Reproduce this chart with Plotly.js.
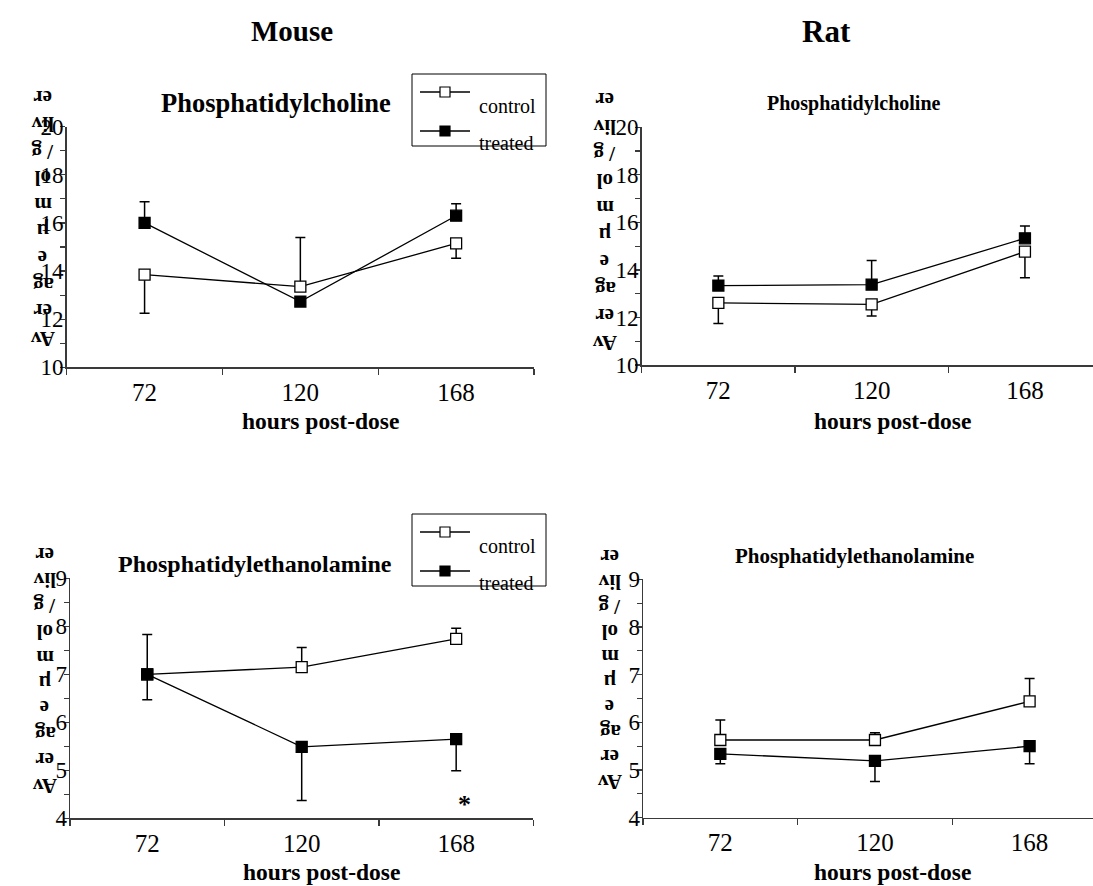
<!DOCTYPE html>
<html>
<head>
<meta charset="utf-8">
<script src="https://cdn.plot.ly/plotly-3.0.1.min.js"></script>
<style>html,body{margin:0;padding:0;background:#fff;}#chart{width:1093px;height:886px;}</style>
</head>
<body>
<div id="chart"></div>
<script>
// ---- data ----
const hours = ['72', '120', '168'];
const seriesNames = ['control', 'treated'];
const speciesNames = ['Mouse', 'Rat'];
const lipidNames = ['Phosphatidylcholine', 'Phosphatidylethanolamine'];
const xTitle = 'hours post-dose';
const yLabelPieces = ['er', 'liv', '/ g', 'ol', 'm', 'µ', 'e', 'ag', 'er', 'Av']; // "Average µmol / g liver", as printed
const significanceMark = '*';
const significantHour = '168';

// Mouse – Phosphatidylcholine
const mousePC_control = [13.85, 13.35, 15.15];
const mousePC_control_errPlus = [0, 2.05, 0];
const mousePC_control_errMinus = [1.6, 0, 0.62];
const mousePC_treated = [16.0, 12.73, 16.3];
const mousePC_treated_errPlus = [0.88, 0, 0.5];
const mousePC_treated_errMinus = [0, 0, 0];

// Rat – Phosphatidylcholine
const ratPC_control = [12.61, 12.55, 14.77];
const ratPC_control_errPlus = [0, 0, 0];
const ratPC_control_errMinus = [0.86, 0.49, 1.1];
const ratPC_treated = [13.34, 13.38, 15.33];
const ratPC_treated_errPlus = [0.4, 1.02, 0.52];
const ratPC_treated_errMinus = [0, 0, 0];

// Mouse – Phosphatidylethanolamine
const mousePE_control = [7.0, 7.15, 7.74];
const mousePE_control_errPlus = [0.83, 0.41, 0.22];
const mousePE_control_errMinus = [0, 0, 0];
const mousePE_treated = [7.0, 5.49, 5.65];
const mousePE_treated_errPlus = [0, 0, 0];
const mousePE_treated_errMinus = [0.53, 1.12, 0.66];

// Rat – Phosphatidylethanolamine
const ratPE_control = [5.63, 5.63, 6.44];
const ratPE_control_errPlus = [0.42, 0.15, 0.48];
const ratPE_control_errMinus = [0, 0, 0];
const ratPE_treated = [5.34, 5.19, 5.5];
const ratPE_treated_errPlus = [0, 0, 0];
const ratPE_treated_errMinus = [0.21, 0.43, 0.37];

// ---- layout helpers ----
const W = 1093, H = 886;
const px = v => v / W;
const py = v => 1 - v / H;
const SERIF = '"Liberation Serif", "Times New Roman", serif';
const AXC = '#3a3a3a';

function mkTrace(name, y, ep, em, xa, ya) {
  const filled = name === seriesNames[1];
  return {
    type: 'scatter', mode: 'lines+markers', name: name,
    x: hours, y: y, xaxis: xa, yaxis: ya, showlegend: false,
    line: {color: '#000', width: 1.3},
    marker: {symbol: 'square', size: 11, color: filled ? '#000' : '#fff', line: {color: '#000', width: 1.3}},
    error_y: {type: 'data', symmetric: false, array: ep, arrayminus: em, color: '#000', thickness: 1.5, width: 5},
    hoverinfo: 'x+y'
  };
}

const traces = [
  mkTrace(seriesNames[0], mousePC_control, mousePC_control_errPlus, mousePC_control_errMinus, 'x', 'y'),
  mkTrace(seriesNames[1], mousePC_treated, mousePC_treated_errPlus, mousePC_treated_errMinus, 'x', 'y'),
  mkTrace(seriesNames[0], ratPC_control, ratPC_control_errPlus, ratPC_control_errMinus, 'x2', 'y2'),
  mkTrace(seriesNames[1], ratPC_treated, ratPC_treated_errPlus, ratPC_treated_errMinus, 'x2', 'y2'),
  mkTrace(seriesNames[0], mousePE_control, mousePE_control_errPlus, mousePE_control_errMinus, 'x3', 'y3'),
  mkTrace(seriesNames[1], mousePE_treated, mousePE_treated_errPlus, mousePE_treated_errMinus, 'x3', 'y3'),
  mkTrace(seriesNames[0], ratPE_control, ratPE_control_errPlus, ratPE_control_errMinus, 'x4', 'y4'),
  mkTrace(seriesNames[1], ratPE_treated, ratPE_treated_errPlus, ratPE_treated_errMinus, 'x4', 'y4')
];

function xAxis(domain, rangeMax, anchor) {
  return {
    type: 'category', domain: domain, range: [-0.5, rangeMax], anchor: anchor,
    showline: true, linecolor: AXC, linewidth: 1.5,
    ticks: 'outside', tickson: 'boundaries', ticklen: 6, tickcolor: AXC, tickwidth: 1.2,
    showgrid: false, zeroline: false, ticklabelstandoff: 2,
    tickfont: {family: SERIF, size: 25, color: '#000'},
    fixedrange: true
  };
}
function yAxis(domain, range, dtick, minor, anchor) {
  return {
    domain: domain, range: range, dtick: dtick, anchor: anchor,
    showline: true, linecolor: AXC, linewidth: 1.5,
    ticks: 'outside', ticklen: 5, tickcolor: AXC, tickwidth: 1.2,
    minor: {dtick: minor, ticks: 'outside', ticklen: 5, tickcolor: AXC, tickwidth: 1.2},
    showgrid: false, zeroline: false, ticklabelstandoff: -8,
    tickfont: {family: SERIF, size: 23, color: '#000'},
    fixedrange: true
  };
}

const annotations = [];
const shapes = [];
function addText(text, x, y, size, opts, fontOpts) {
  annotations.push(Object.assign({
    text: text, xref: 'paper', yref: 'paper', x: px(x), y: py(y),
    xanchor: 'center', yanchor: 'middle', showarrow: false,
    font: Object.assign({family: SERIF, size: size, color: '#000', weight: 'bold'}, fontOpts || {})
  }, opts || {}));
}
// headers and panel titles
addText(speciesNames[0], 292, 31, 29);
addText(speciesNames[1], 826, 31, 31);
addText(lipidNames[0], 276, 103, 26.5);
addText(lipidNames[0], 854, 103, 20);
addText(lipidNames[1], 255, 564, 24);
addText(lipidNames[1], 854, 556, 21);
// x-axis titles
addText(xTitle, 320, 421, 23.5);
addText(xTitle, 892, 421, 23.5);
addText(xTitle, 321, 872, 23.5);
addText(xTitle, 892, 872, 23.5);

// y-axis title, printed as upside-down fragments
function addYLabel(cx, top, step) {
  yLabelPieces.forEach((t, i) => addText(t, cx, top + i * step, 21, {textangle: 180}));
}
addYLabel(43, 98, 26.7);
addYLabel(605, 100, 27.0);
addYLabel(45, 555, 25.6);
addYLabel(610, 557, 25.0);

annotations.push({
  text: significanceMark, xref: 'x3', yref: 'y3', x: hours.indexOf(significantHour), y: 4.28, xshift: 8,
  showarrow: false, font: {family: SERIF, size: 26, color: '#000', weight: 'bold'}
});

// legend boxes (drawn like the original Excel legend)
function addLegend(left, top) {
  shapes.push({type: 'rect', xref: 'paper', yref: 'paper', x0: px(left), x1: px(left + 134), y0: py(top), y1: py(top + 72),
    line: {color: '#000', width: 1}, fillcolor: 'rgba(0,0,0,0)'});
  seriesNames.forEach((name, i) => {
    const ly = top + 18 + i * 39;
    shapes.push({type: 'line', xref: 'paper', yref: 'paper', x0: px(left + 8), x1: px(left + 58), y0: py(ly), y1: py(ly),
      line: {color: '#000', width: 1.3}});
    shapes.push({type: 'rect', xref: 'paper', yref: 'paper', x0: px(left + 28), x1: px(left + 38), y0: py(ly - 5), y1: py(ly + 5),
      line: {color: '#000', width: 1.2}, fillcolor: i === 1 ? '#000' : '#fff'});
    addText(name, left + 65, ly + 14 - i * 2, 20, {xanchor: 'left'}, {weight: 'normal'});
  });
}
addLegend(412, 74);
addLegend(412, 514);

const layout = {
  width: W, height: H, margin: {l: 0, r: 0, t: 0, b: 0},
  paper_bgcolor: '#fff', plot_bgcolor: '#fff', showlegend: false,
  xaxis: xAxis([px(66.7), px(534)], 2.5, 'y'),
  yaxis: yAxis([py(367.3), py(126.7)], [10, 20], 2, 1, 'x'),
  xaxis2: xAxis([px(641.7), 1], 2.444, 'y2'),
  yaxis2: yAxis([py(365), py(127.3)], [10, 20], 2, 1, 'x2'),
  xaxis3: xAxis([px(70), px(533.4)], 2.5, 'y3'),
  yaxis3: yAxis([py(818.3), py(578.3)], [4, 9], 1, 0.5, 'x3'),
  xaxis4: xAxis([px(643), 1], 2.41, 'y4'),
  yaxis4: yAxis([py(817.7), py(579.3)], [4, 9], 1, 0.5, 'x4'),
  annotations: annotations,
  shapes: shapes
};

Plotly.newPlot('chart', traces, layout, {displayModeBar: false, staticPlot: true});
</script>
</body>
</html>
